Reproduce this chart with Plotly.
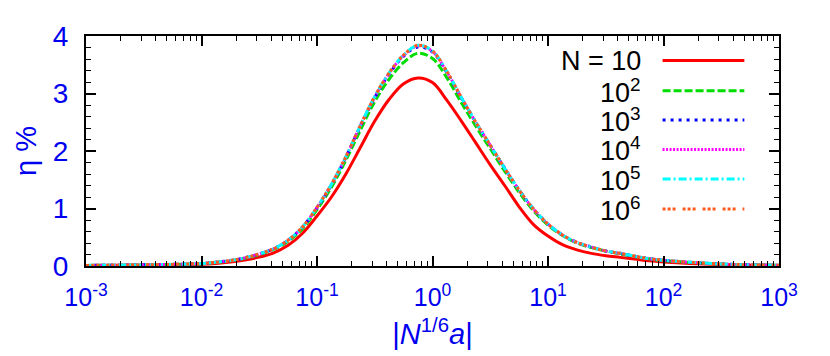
import plotly.graph_objects as go

# sample positions as log10(|N^{1/6} a|)
log_x = [-3, -2.5, -2, -1.875, -1.75, -1.625, -1.5, -1.375, -1.25, -1.125,
         -1, -0.875, -0.75, -0.625, -0.5, -0.375, -0.25, -0.125, 0, 0.125,
         0.25, 0.375, 0.5, 0.625, 0.75, 0.875, 1, 1.125, 1.25, 1.375,
         1.5, 1.625, 1.75, 1.875, 2, 2.5, 3]
x_vals = [10 ** e for e in log_x]

# eta % for each N
eta_n10 = [0.01, 0.015, 0.03, 0.045, 0.07, 0.105, 0.155, 0.23, 0.36, 0.57,
           0.87, 1.2, 1.6, 2.06, 2.52, 2.9, 3.17, 3.27, 3.19, 2.88,
           2.52, 2.14, 1.76, 1.4, 1.03, 0.72, 0.52, 0.37, 0.28, 0.22,
           0.18, 0.15, 0.12, 0.09, 0.07, 0.025, 0.01]
eta_n1e2 = [0.01, 0.02, 0.04, 0.062, 0.09, 0.135, 0.2, 0.29, 0.43, 0.65,
            0.98, 1.37, 1.84, 2.36, 2.86, 3.25, 3.54, 3.70, 3.61, 3.27,
            2.84, 2.43, 2.04, 1.65, 1.28, 0.96, 0.71, 0.53, 0.4, 0.32,
            0.26, 0.21, 0.165, 0.125, 0.095, 0.033, 0.012]
eta_n1e3 = [0.01, 0.02, 0.043, 0.066, 0.095, 0.14, 0.21, 0.3, 0.45, 0.68,
            1.01, 1.41, 1.89, 2.43, 2.93, 3.34, 3.65, 3.81, 3.72, 3.36,
            2.92, 2.5, 2.1, 1.7, 1.32, 0.99, 0.73, 0.54, 0.41, 0.33,
            0.26, 0.22, 0.17, 0.13, 0.1, 0.035, 0.012]
eta_n1e4 = [0.01, 0.02, 0.043, 0.066, 0.095, 0.14, 0.21, 0.3, 0.45, 0.68,
            1.02, 1.42, 1.9, 2.44, 2.94, 3.35, 3.66, 3.83, 3.73, 3.37,
            2.93, 2.5, 2.1, 1.7, 1.32, 0.99, 0.73, 0.54, 0.41, 0.33,
            0.26, 0.22, 0.17, 0.13, 0.1, 0.035, 0.012]
eta_n1e5 = [0.01, 0.02, 0.043, 0.066, 0.095, 0.14, 0.21, 0.3, 0.45, 0.68,
            1.02, 1.42, 1.9, 2.44, 2.95, 3.36, 3.67, 3.84, 3.74, 3.38,
            2.93, 2.5, 2.1, 1.7, 1.32, 0.99, 0.73, 0.54, 0.41, 0.33,
            0.26, 0.22, 0.17, 0.13, 0.1, 0.035, 0.012]
eta_n1e6 = [0.01, 0.02, 0.043, 0.066, 0.095, 0.14, 0.21, 0.3, 0.45, 0.68,
            1.02, 1.42, 1.9, 2.44, 2.95, 3.36, 3.67, 3.84, 3.74, 3.38,
            2.93, 2.5, 2.1, 1.7, 1.32, 0.99, 0.73, 0.54, 0.41, 0.33,
            0.26, 0.22, 0.17, 0.13, 0.1, 0.035, 0.012]

labels = ["N = 10", "10<sup>2</sup>", "10<sup>3</sup>", "10<sup>4</sup>", "10<sup>5</sup>", "10<sup>6</sup>"]
series = [eta_n10, eta_n1e2, eta_n1e3, eta_n1e4, eta_n1e5, eta_n1e6]
colors = ["#ff0000", "#00dd00", "#0000ff", "#ff00ff", "#00ffff", "#ff5a1a"]
dashes = ["solid", "8px,3px", "3px,5px", "2px,1.5px", "8px,3px,2px,3px", "3px,2px,3px,2px,3px,7px"]

x_tickvals = [1e-3, 1e-2, 1e-1, 1, 10, 100, 1000]
x_ticktext = ["10<sup>-3</sup>", "10<sup>-2</sup>", "10<sup>-1</sup>", "10<sup>0</sup>",
              "10<sup>1</sup>", "10<sup>2</sup>", "10<sup>3</sup>"]

FONT = "Liberation Sans, Arial, Helvetica, sans-serif"
BLUE = "#0000ee"

fig = go.Figure()
for ys, col, dash in zip(series, colors, dashes):
    fig.add_trace(go.Scatter(x=x_vals, y=ys, mode="lines", line_shape="spline",
                             line=dict(color=col, width=3, dash=dash), showlegend=False))

# gnuplot-style key: label text on the left, line sample on the right
row_y = [0.893, 0.762, 0.635, 0.507, 0.378, 0.248]
for lab, col, dash, yy in zip(labels, colors, dashes, row_y):
    fig.add_annotation(x=0.804, y=yy, xref="paper", yref="paper", text=lab,
                       showarrow=False, xanchor="right", yanchor="middle",
                       font=dict(family=FONT, size=27, color="black"))
    fig.add_shape(type="line", xref="paper", yref="paper", x0=0.832, x1=0.95, y0=yy, y1=yy,
                  line=dict(color=col, width=3, dash=dash))

minor_x = [m * 10 ** e for e in range(-3, 3) for m in range(2, 10)]

fig.update_xaxes(type="log", range=[-3, 3], tickvals=x_tickvals, ticktext=x_ticktext,
                 ticks="inside", ticklen=10, tickwidth=1.5, tickcolor="black",
                 minor=dict(tickvals=minor_x, ticks="inside", ticklen=5, tickwidth=1.2, tickcolor="black"),
                 showline=True, linecolor="black", linewidth=2, mirror="allticks",
                 showgrid=False, zeroline=False, ticklabelstandoff=8,
                 tickfont=dict(family=FONT, size=25, color=BLUE),
                 title=dict(text="|<i>N</i><sup>1/6</sup><i>a</i>|", standoff=14,
                            font=dict(family=FONT, size=29, color=BLUE)))
fig.update_yaxes(range=[0, 4], tickvals=[0, 1, 2, 3, 4],
                 ticks="inside", ticklen=10, tickwidth=1.5, tickcolor="black",
                 minor=dict(dtick=0.2, ticks="inside", ticklen=5, tickwidth=1.2, tickcolor="black"),
                 showline=True, linecolor="black", linewidth=2, mirror="allticks",
                 showgrid=False, zeroline=False, ticklabelstandoff=10,
                 tickfont=dict(family=FONT, size=28, color=BLUE),
                 title=dict(text="η %", standoff=8, font=dict(family=FONT, size=29, color=BLUE)))

# page body adds an 8px offset, so the figure is sized to fit inside the window
fig.update_layout(width=822, height=348, margin=dict(l=78, r=51, t=28, b=90),
                  plot_bgcolor="white", paper_bgcolor="white")

fig.write_html("out.html")
